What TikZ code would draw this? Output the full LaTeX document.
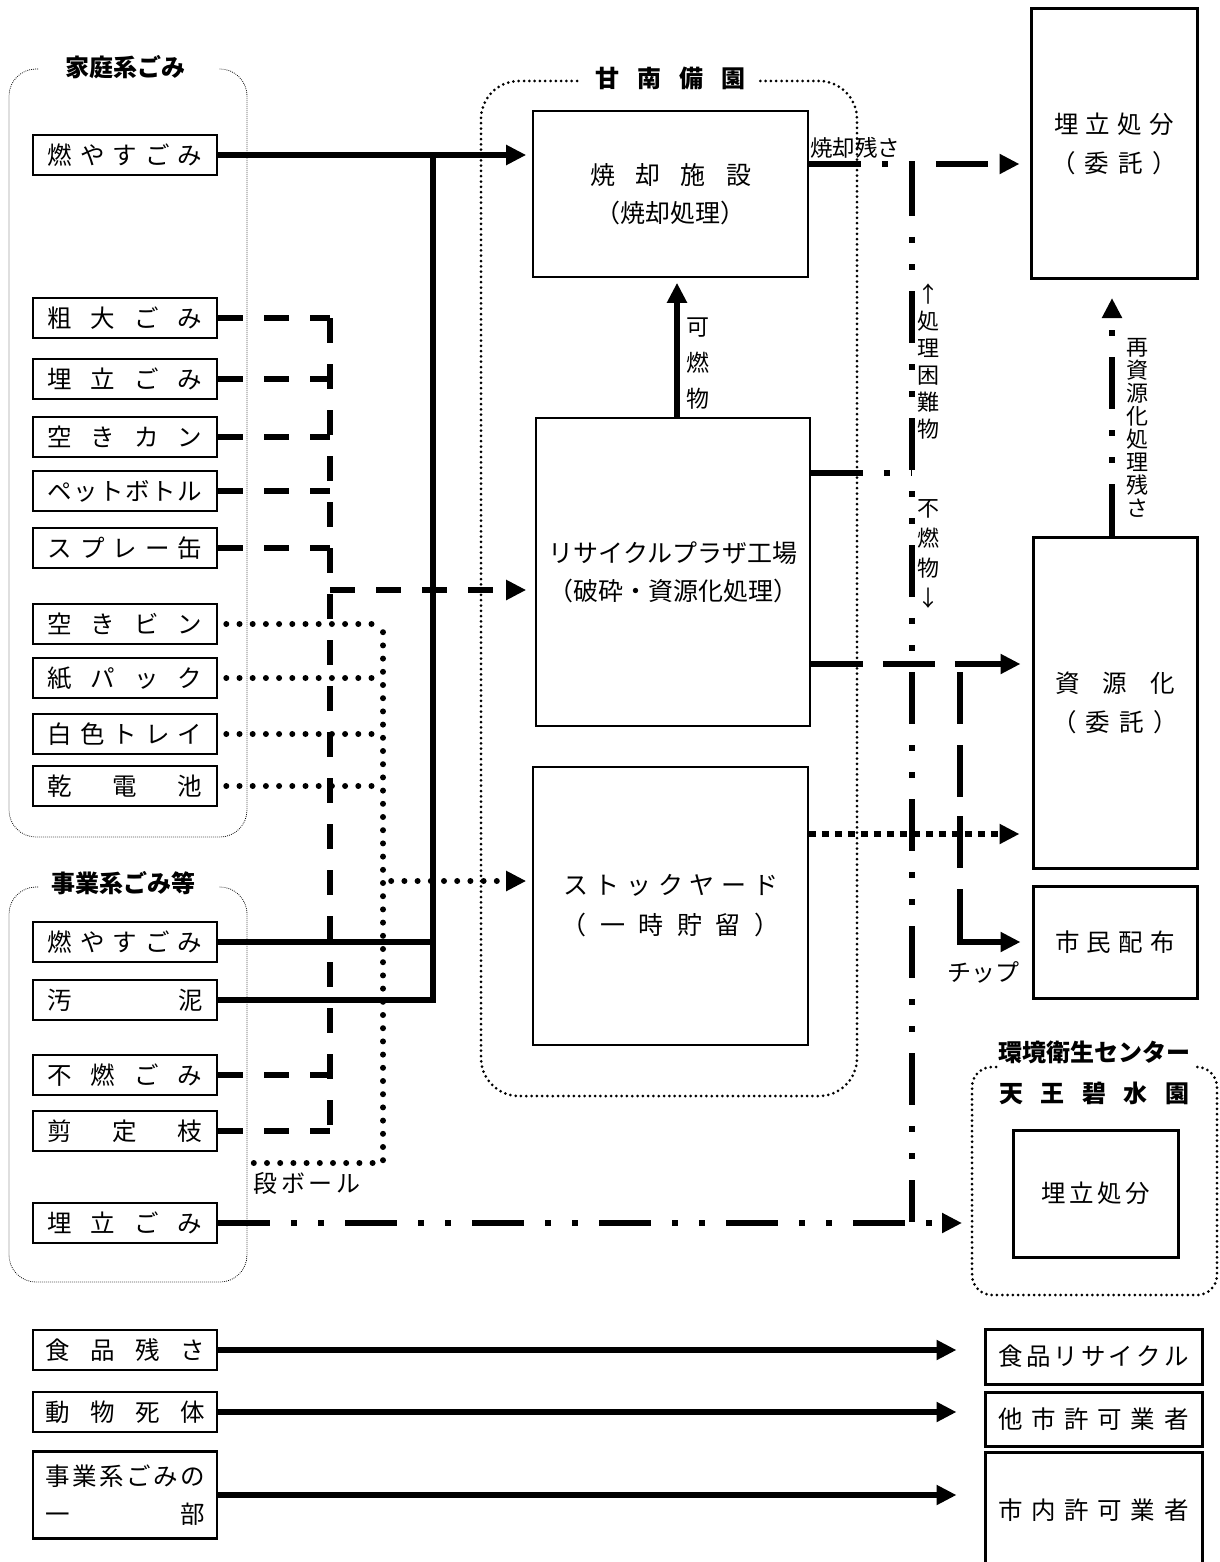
\documentclass[tikz,border=0pt]{standalone}
\usepackage{fontspec}
\setmainfont{Noto Sans CJK JP}
\usetikzlibrary{arrows.meta}
\newcommand{\sprd}[2]{\makebox[#1][s]{#2}}
\tikzset{
 lbl/.style={inner sep=0pt, font=\fontsize{24}{28}\selectfont},
 ttl/.style={inner sep=0pt, font=\fontsize{24}{28}\selectfont\bfseries},
 lbox/.style={draw, line width=2.2pt, inner sep=0pt, minimum width=184pt, minimum height=40pt, font=\fontsize{24.5}{28}\selectfont},
 bbox/.style={lbox, line width=2.8pt, align=center, font=\fontsize{24.5}{38}\selectfont},
 cbox/.style={draw, line width=1.6pt, inner sep=0pt, align=center, font=\fontsize{25}{38}\selectfont},
 rbox/.style={draw, line width=3pt, inner sep=0pt, align=center, font=\fontsize{24.5}{39}\selectfont},
 vlbl/.style={inner sep=0pt, align=center},
 conn/.style={line width=6pt},
 sol/.style={conn},
 mdash/.style={conn, dash pattern=on 25pt off 21pt},
 rdot/.style={conn, line cap=round, dash pattern=on 0pt off 13.2pt, dash phase=5pt},
 sqdot/.style={conn, dash pattern=on 7pt off 6pt},
 ddd/.style={conn, dash pattern=on 52pt off 21pt on 6pt off 21pt on 6pt off 21pt},
 ldash/.style={conn, dash pattern=on 52pt off 20pt},
 chipdash/.style={conn, dash pattern=on 0pt off 8pt on 52pt off 21pt on 52pt off 19pt on 52pt off 21pt on 130pt off 10pt},
 grpthin/.style={line width=0.8pt, dash pattern=on 0.8pt off 1.2pt},
 grpdot/.style={line width=3pt, line cap=round, dash pattern=on 0pt off 5.3pt},
}
\begin{document}
\begin{tikzpicture}[x=1pt,y=-1pt,>={Triangle[length=20pt,width=19pt]}]
\useasboundingbox (0,0) rectangle (1219,1562);

% ---------- group borders ----------
\draw[grpthin, rounded corners=27pt] (38,69) -- (9,69) -- (9,837) -- (247,837) -- (247,69) -- (219,69);
\draw[grpthin, rounded corners=27pt] (38,887) -- (9,887) -- (9,1282) -- (247,1282) -- (247,887) -- (219,887);
\draw[grpdot, rounded corners=38pt] (577,81) -- (481,81) -- (481,1096) -- (857,1096) -- (857,81) -- (758,81);
\draw[grpdot, rounded corners=20pt] (996,1067) -- (972,1067) -- (972,1295) -- (1217,1295) -- (1217,1067) -- (1195,1067);

% ---------- titles ----------
\node[ttl] (tk) at (125,67) {家庭系ごみ};
\node[ttl] (tj) at (123,883) {事業系ごみ等};
\node[ttl] (tkn) at (670,78) {\sprd{150pt}{甘\hfill 南\hfill 備\hfill 園}};
\node[ttl] (tenv) at (1094,1052) {環境衛生センター};
\node[ttl] (ttn) at (1094,1093) {\sprd{190pt}{天\hfill 王\hfill 碧\hfill 水\hfill 園}};

% ---------- left boxes (household) ----------
\node[lbox] (k1) at (125,155) {\sprd{155pt}{燃\hfill や\hfill す\hfill ご\hfill み}};
\node[lbox] (k2) at (125,318) {\sprd{155pt}{粗\hfill 大\hfill ご\hfill み}};
\node[lbox] (k3) at (125,379) {\sprd{155pt}{埋\hfill 立\hfill ご\hfill み}};
\node[lbox] (k4) at (125,437) {\sprd{155pt}{空\hfill き\hfill カ\hfill ン}};
\node[lbox] (k5) at (125,491) {\sprd{155pt}{ペ\hfill ッ\hfill ト\hfill ボ\hfill ト\hfill ル}};
\node[lbox] (k6) at (125,548) {\sprd{155pt}{ス\hfill プ\hfill レ\hfill ー\hfill 缶}};
\node[lbox] (k7) at (125,624) {\sprd{155pt}{空\hfill き\hfill ビ\hfill ン}};
\node[lbox] (k8) at (125,678) {\sprd{155pt}{紙\hfill パ\hfill ッ\hfill ク}};
\node[lbox] (k9) at (125,734) {\sprd{155pt}{白\hfill 色\hfill ト\hfill レ\hfill イ}};
\node[lbox] (k10) at (125,786) {\sprd{155pt}{乾\hfill 電\hfill 池}};

% ---------- left boxes (business) ----------
\node[lbox] (j1) at (125,942) {\sprd{155pt}{燃\hfill や\hfill す\hfill ご\hfill み}};
\node[lbox] (j2) at (125,1000) {\sprd{155pt}{汚\hfill 泥}};
\node[lbox] (j3) at (125,1075) {\sprd{155pt}{不\hfill 燃\hfill ご\hfill み}};
\node[lbox] (j4) at (125,1131) {\sprd{155pt}{剪\hfill 定\hfill 枝}};
\node[lbox] (j5) at (125,1223) {\sprd{155pt}{埋\hfill 立\hfill ご\hfill み}};
\node[lbl] (ldb) at (307,1183) {\sprd{107pt}{段\hfill ボ\hfill ー\hfill ル}};

% ---------- bottom boxes ----------
\node[bbox] (b1) at (125,1350) {\sprd{160pt}{食\hfill 品\hfill 残\hfill さ}};
\node[bbox] (b2) at (125,1412) {\sprd{160pt}{動\hfill 物\hfill 死\hfill 体}};
\node[bbox, minimum height=87pt] (b3) at (125,1495) {\sprd{160pt}{事\hfill 業\hfill 系\hfill ご\hfill み\hfill の}\\\sprd{160pt}{一\hfill 部}};
\node[rbox, minimum width=217pt, minimum height=55pt] (r1) at (1093.5,1356.5) {\sprd{190pt}{食\hfill 品\hfill リ\hfill サ\hfill イ\hfill ク\hfill ル}};
\node[rbox, minimum width=217pt, minimum height=54pt] (r2) at (1093.5,1419) {\sprd{190pt}{他\hfill 市\hfill 許\hfill 可\hfill 業\hfill 者}};
\node[rbox, minimum width=217pt, minimum height=116pt] (r3) at (1093.5,1510) {\sprd{190pt}{市\hfill 内\hfill 許\hfill 可\hfill 業\hfill 者}};

% ---------- centre boxes ----------
\node[cbox, minimum width=275pt, minimum height=166pt] (c1) at (670.5,194) {\sprd{161pt}{焼\hfill 却\hfill 施\hfill 設}\\（焼却処理）};
\node[cbox, minimum width=274pt, minimum height=308pt] (c2) at (673,572) {リサイクルプラザ工場\\（破砕・資源化処理）};
\node[cbox, minimum width=275pt, minimum height=278pt, font=\fontsize{25}{40}\selectfont] (c3) at (670.5,906) {\sprd{215pt}{ス\hfill ト\hfill ッ\hfill ク\hfill ヤ\hfill ー\hfill ド}\\\sprd{218pt}{（\hfill 一\hfill 時\hfill 貯\hfill 留\hfill ）}};

% ---------- right boxes ----------
\node[rbox, minimum width=166pt, minimum height=269pt] (e1) at (1114,143.5) {\sprd{119pt}{埋\hfill 立\hfill 処\hfill 分}\\\sprd{126pt}{（\hfill 委\hfill 託\hfill ）}};
\node[rbox, minimum width=164pt, minimum height=331pt] (e2) at (1115,702.5) {\sprd{119pt}{資\hfill 源\hfill 化}\\\sprd{126pt}{（\hfill 委\hfill 託\hfill ）}};
\node[rbox, minimum width=164pt, minimum height=112pt] (e3) at (1115,942) {\sprd{119pt}{市\hfill 民\hfill 配\hfill 布}};
\node[rbox, minimum width=165pt, minimum height=127pt] (e4) at (1095.5,1193.5) {\sprd{108pt}{埋\hfill 立\hfill 処\hfill 分}};

% ---------- labels ----------
\node[lbl, font=\fontsize{22.5}{26}\selectfont] (lsz1) at (855,148) {焼却残さ};
\node[vlbl, font=\fontsize{23}{36}\selectfont] (lk) at (698,364) {可\\燃\\物};
\node[vlbl, font=\fontsize{22}{27}\selectfont] (lsk) at (928,362) {↑\\処\\理\\困\\難\\物};
\node[vlbl, font=\fontsize{22}{30}\selectfont] (lfn) at (928,554) {不\\燃\\物\\↓};
\node[vlbl, font=\fontsize{22}{23}\selectfont] (lsz) at (1137,428) {再\\資\\源\\化\\処\\理\\残\\さ};
\node[lbl] (lch) at (983,972) {チップ};

% ---------- helper coordinates ----------
\coordinate (tS) at (433,0);
\coordinate (tD) at (330,0);
\coordinate (tR) at (383,0);
\coordinate (yRP) at (0,590);
\coordinate (ySY) at (0,881);
\coordinate (dan) at (250,1163);
\coordinate (kx) at (677,0);
\coordinate (vT) at (912,164);
\coordinate (vB) at (912,1222);
\coordinate (yR1) at (0,473);
\coordinate (yR2) at (0,664);
\coordinate (ch) at (960,664);
\coordinate (ySQ) at (0,834);
\coordinate (tipR) at (0,298);
\coordinate (envL) at (972,0);

% ---------- solid flows ----------
\draw[sol,->] (k1.east) -- ([xshift=-6pt]c1.west |- k1.east);
\draw[sol] (k1.east -| tS) -- (j2.east -| tS) -- (j2.east);
\draw[sol] (j1.east) -- (j1.east -| tS);
\draw[sol,->] (c2.north -| kx) -- ([yshift=-5pt]c1.south -| kx);

% ---------- dashed flows to recycle plaza ----------
\foreach \n in {k2,k3,k4,k5,k6,j3,j4} \draw[mdash] (\n.east) -- (\n.east -| tD);
\draw[mdash] (k2.east -| tD) -- (j4.east -| tD);
\draw[mdash,->] (tD |- yRP) -- ([xshift=-9pt]c2.west |- yRP);

% ---------- dotted flows to stock yard ----------
\foreach \n in {k7,k8,k9,k10} \draw[rdot] (\n.east) -- (\n.east -| tR);
\draw[rdot] (k7.east -| tR) -- (dan -| tR) -- (dan);
\draw[rdot,->] (tR |- ySY) -- ([xshift=-6pt]c3.west |- ySY);

% ---------- right side flows ----------
\draw[ddd,->] (c1.east |- vT) -- ([xshift=-10pt]e1.west |- vT);
\draw[ddd] (vT) -- (vB);
\draw[ddd] (c2.east |- yR1) -- (vT |- yR1);
\draw[ldash,->] (c2.east |- yR2) -- ([xshift=-11pt]e2.west |- yR2);
\draw[chipdash,->] (ch) -- (ch |- e3.west) -- ([xshift=-11pt]e3.west);
\draw[sqdot,->] (c3.east |- ySQ) -- ([xshift=-12pt]e2.west |- ySQ);
\draw[ddd,->] ([xshift=-3pt]e2.north) -- ([xshift=-3pt]e2.north |- tipR);
\draw[ddd,->] (j5.east) -- ([xshift=-10pt]envL |- j5.east);

% ---------- bottom flows ----------
\draw[sol,->] (b1.east) -- ([xshift=-27pt]r1.west |- b1.east);
\draw[sol,->] (b2.east) -- ([xshift=-27pt]r2.west |- b2.east);
\draw[sol,->] (b3.east) -- ([xshift=-27pt]r3.west |- b3.east);
\end{tikzpicture}
\end{document}
